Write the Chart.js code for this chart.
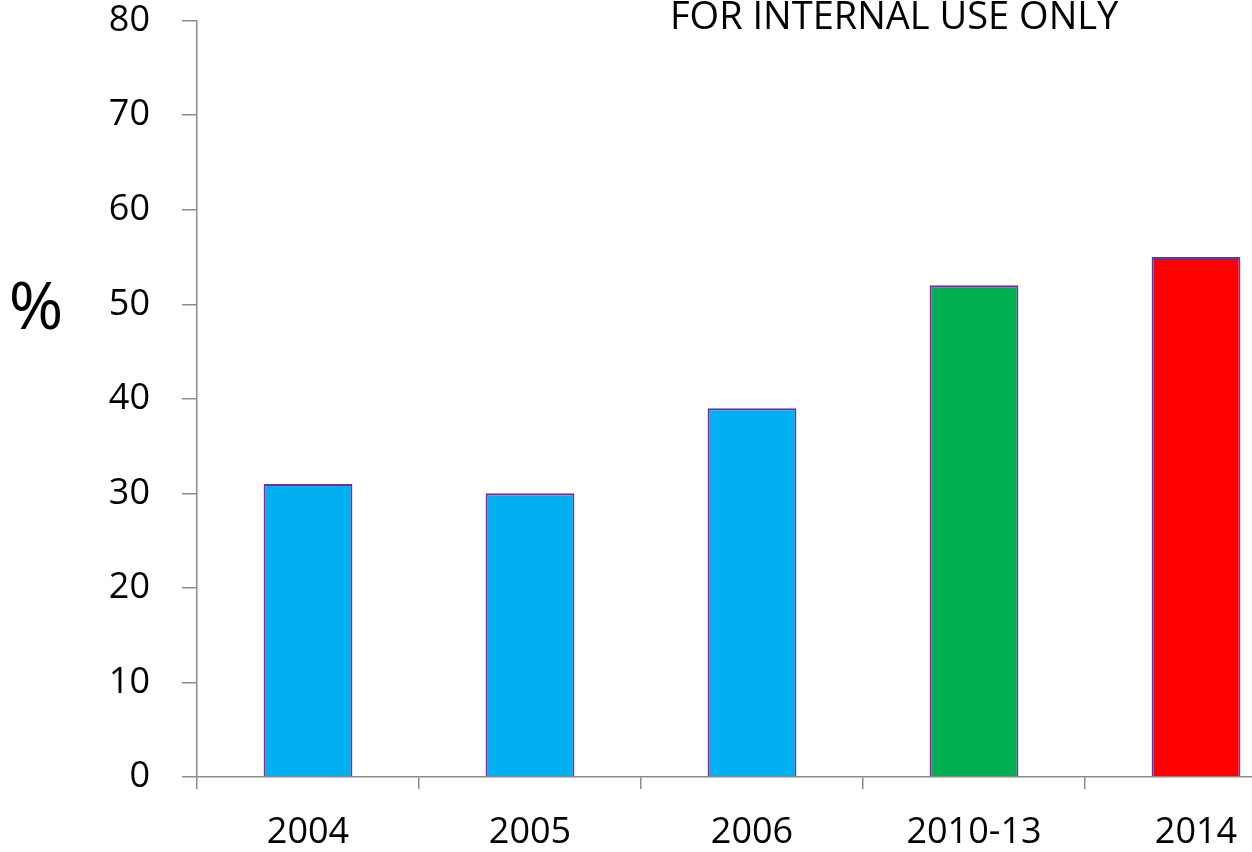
<!DOCTYPE html>
<html>
<head>
<meta charset="utf-8">
<script src="https://cdn.jsdelivr.net/npm/chart.js@4"></script>
<style>
    html, body { margin: 0; padding: 0; background: #fff; overflow: hidden; width: 1252px; height: 852px; }
    #chart { display: block; margin-top: -33px; }
</style>
</head>
<body>
<canvas id="chart" width="1320" height="885"></canvas>
<script>
const categories = ['2004', '2005', '2006', '2010-13', '2014'];
const percentages = [31, 30, 39, 52, 55];
const barColors = ['#00B0F0', '#00B0F0', '#00B0F0', '#00B050', '#FF0000'];
const yTicks = [0, 10, 20, 30, 40, 50, 60, 70, 80];

const fontFamily = '"Open Sans", "Liberation Sans", sans-serif';
const axisColor = '#8c8c8c';
const shiftY = 33; // canvas is pulled up by this much in the page

const extraText = {
    id: 'extraText',
    afterDraw(chart) {
        const ctx = chart.ctx;
        ctx.save();
        ctx.fillStyle = '#000';
        ctx.textBaseline = 'middle';
        ctx.textAlign = 'center';
        ctx.font = '66px ' + fontFamily;
        ctx.fillText('%', 36, 310 + shiftY);
        ctx.font = '38px ' + fontFamily;
        ctx.textAlign = 'left';
        ctx.textBaseline = 'alphabetic';
        ctx.fillText('FOR INTERNAL USE ONLY', 670, 29 + shiftY);
        ctx.restore();
    }
};

const ctx = document.getElementById('chart').getContext('2d');
new Chart(ctx, {
    type: 'bar',
    data: {
        labels: categories,
        datasets: [{
            data: percentages,
            backgroundColor: barColors,
            borderColor: '#7030A0',
            borderWidth: 2,
            borderSkipped: 'bottom',
            barPercentage: 0.4,
            categoryPercentage: 1.0,
        }]
    },
    options: {
        responsive: false,
        devicePixelRatio: 1,
        animation: false,
        layout: {
            padding: { top: 20, right: 13, bottom: 0, left: 0 }
        },
        plugins: {
            legend: { display: false },
            tooltip: { enabled: false },
        },
        scales: {
            x: {
                afterFit: (scale) => { scale.height = 75; },
                grid: {
                    drawOnChartArea: false,
                    offset: true,
                    color: axisColor,
                    lineWidth: 1.5,
                    tickLength: 12,
                },
                border: { color: axisColor, width: 1.5 },
                ticks: {
                    color: '#000',
                    padding: 22,
                    font: { family: fontFamily, size: 36 },
                    maxRotation: 0,
                },
            },
            y: {
                min: 0,
                max: 80,
                afterFit: (scale) => { scale.width = 197; },
                afterBuildTicks: (scale) => { scale.ticks = yTicks.map(v => ({ value: v })); },
                grid: {
                    drawOnChartArea: false,
                    color: axisColor,
                    lineWidth: 1.5,
                    tickLength: 15,
                },
                border: { color: axisColor, width: 1.5 },
                ticks: {
                    color: '#000',
                    padding: 32,
                    font: { family: fontFamily, size: 36 },
                },
            }
        }
    },
    plugins: [extraText]
});
</script>
</body>
</html>
